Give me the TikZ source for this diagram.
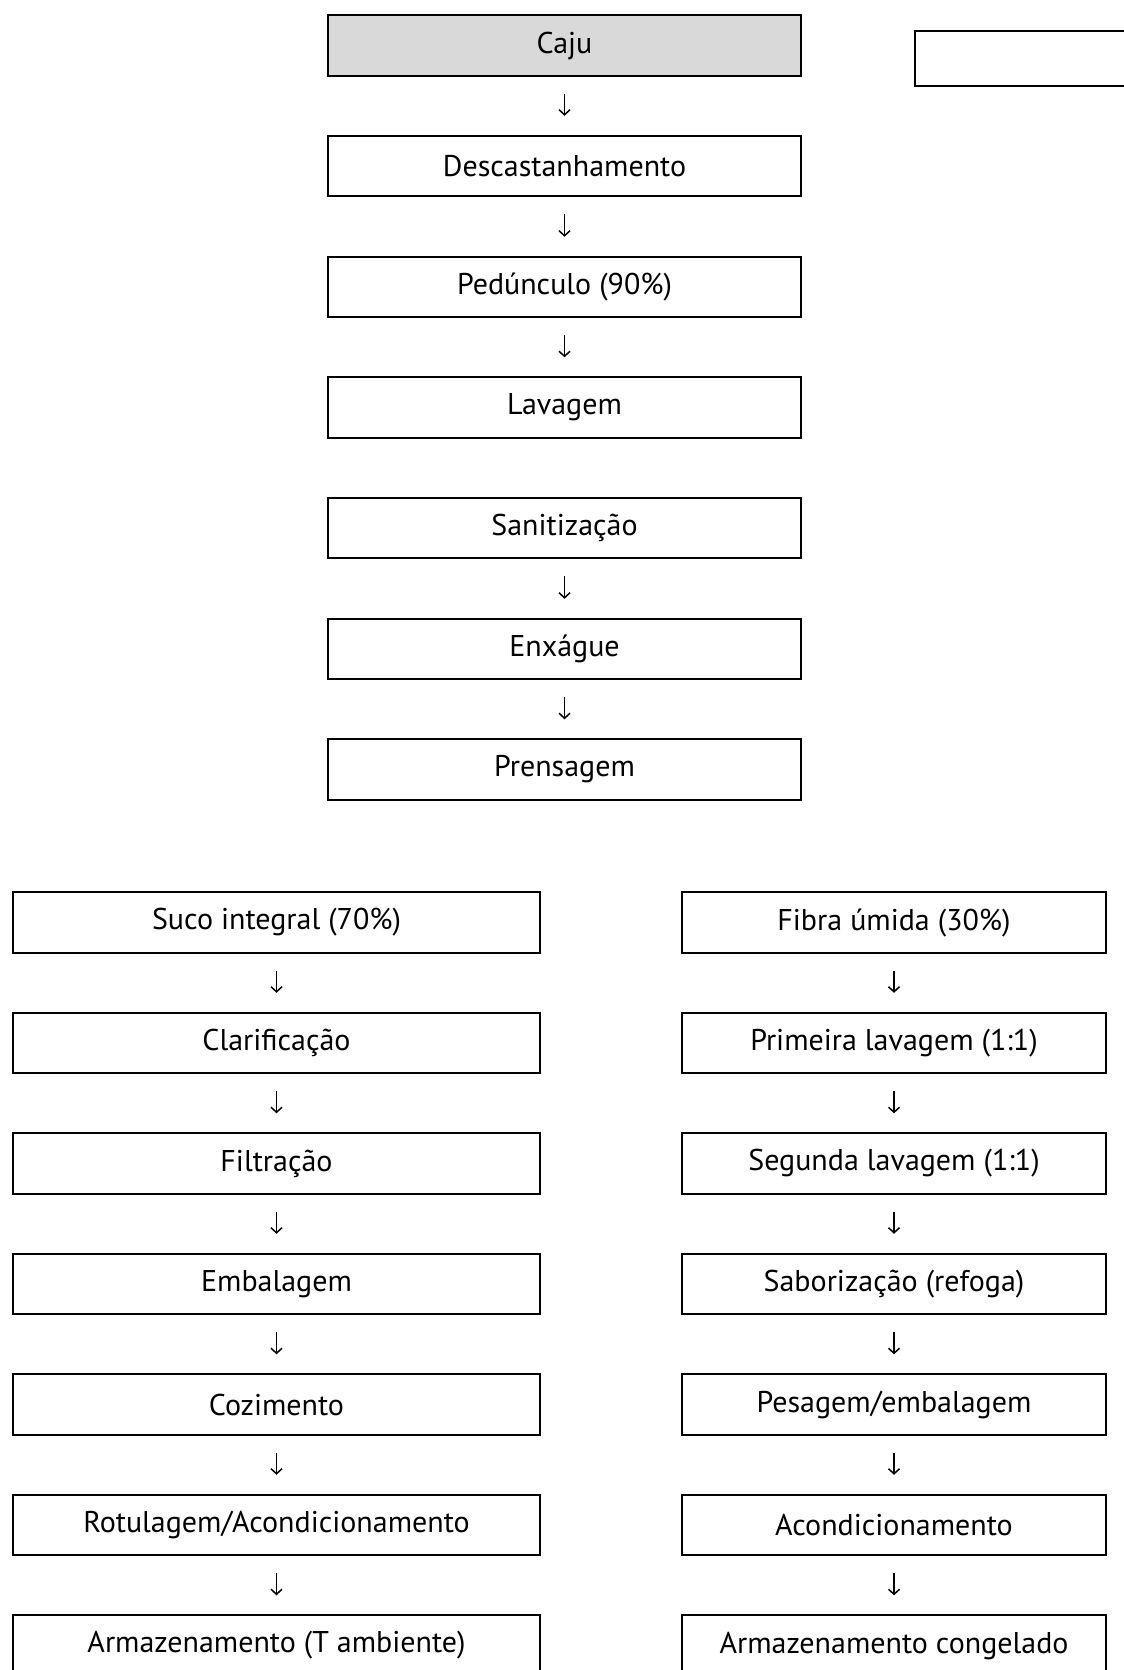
\documentclass[tikz,border=0pt]{standalone}
\usepackage{fontspec}
\setmainfont{PT Sans}
\usetikzlibrary{arrows.meta}
\definecolor{cajugray}{HTML}{D9D9D9}
\tikzset{
  stepbox/.style={draw=black, line width=2pt, inner sep=0pt, minimum height=60.5pt, font=\fontsize{30}{34}\selectfont},
  cbox/.style={stepbox, minimum width=473pt},
  lbox/.style={stepbox, minimum width=527pt},
  rbox/.style={stepbox, minimum width=424pt},
  arr/.style={line width=1.5pt, -{Straight Barb[length=5pt,width=11pt,line width=1.5pt]}, shorten <=17pt, shorten >=19pt}
}
\begin{document}
\begin{tikzpicture}[x=1pt,y=-1pt]
\useasboundingbox (0,0) rectangle (1124,1670);
% centre column
\node[cbox, fill=cajugray] (caju) at (564.5,45.5) {Caju};
\node[cbox] (desc) at (564.5,166) {Descastanhamento};
\node[cbox] (ped) at (564.5,287) {Pedúnculo (90\%)};
\node[cbox] (lav) at (564.5,407.5) {Lavagem};
\node[cbox] (san) at (564.5,528) {Sanitização};
\node[cbox] (enx) at (564.5,649) {Enxágue};
\node[cbox] (pren) at (564.5,769.5) {Prensagem};
% top-right empty box
\node[draw=black, line width=2pt, inner sep=0pt, minimum width=285pt, minimum height=55pt] (blank) at (1057.5,58.5) {};
% left column
\node[lbox] (suco) at (276.5,922.5) {Suco integral (70\%)};
\node[lbox] (clar) at (276.5,1043) {Clarificação};
\node[lbox] (filt) at (276.5,1163.5) {Filtração};
\node[lbox] (emb) at (276.5,1284) {Embalagem};
\node[lbox] (coz) at (276.5,1404.5) {Cozimento};
\node[lbox] (rot) at (276.5,1525) {Rotulagem/Acondicionamento};
\node[lbox] (arml) at (276.5,1645.5) {Armazenamento (T ambiente)};
% right column
\node[rbox] (fib) at (894,922.5) {Fibra úmida (30\%)};
\node[rbox] (lav1) at (894,1043) {Primeira lavagem (1:1)};
\node[rbox] (lav2) at (894,1163.5) {Segunda lavagem (1:1)};
\node[rbox] (sab) at (894,1284) {Saborização (refoga)};
\node[rbox] (pes) at (894,1404.5) {Pesagem/embalagem};
\node[rbox] (acon) at (894,1525) {Acondicionamento};
\node[rbox] (armr) at (894,1645.5) {Armazenamento congelado};
% arrows
\draw[arr] (caju.south) -- (desc.north);
\draw[arr] (desc.south) -- (ped.north);
\draw[arr] (ped.south) -- (lav.north);
\draw[arr] (san.south) -- (enx.north);
\draw[arr] (enx.south) -- (pren.north);
\draw[arr] (suco.south) -- (clar.north);
\draw[arr] (clar.south) -- (filt.north);
\draw[arr] (filt.south) -- (emb.north);
\draw[arr] (emb.south) -- (coz.north);
\draw[arr] (coz.south) -- (rot.north);
\draw[arr] (rot.south) -- (arml.north);
\draw[arr] (fib.south) -- (lav1.north);
\draw[arr] (lav1.south) -- (lav2.north);
\draw[arr] (lav2.south) -- (sab.north);
\draw[arr] (sab.south) -- (pes.north);
\draw[arr] (pes.south) -- (acon.north);
\draw[arr] (acon.south) -- (armr.north);
\end{tikzpicture}
\end{document}
